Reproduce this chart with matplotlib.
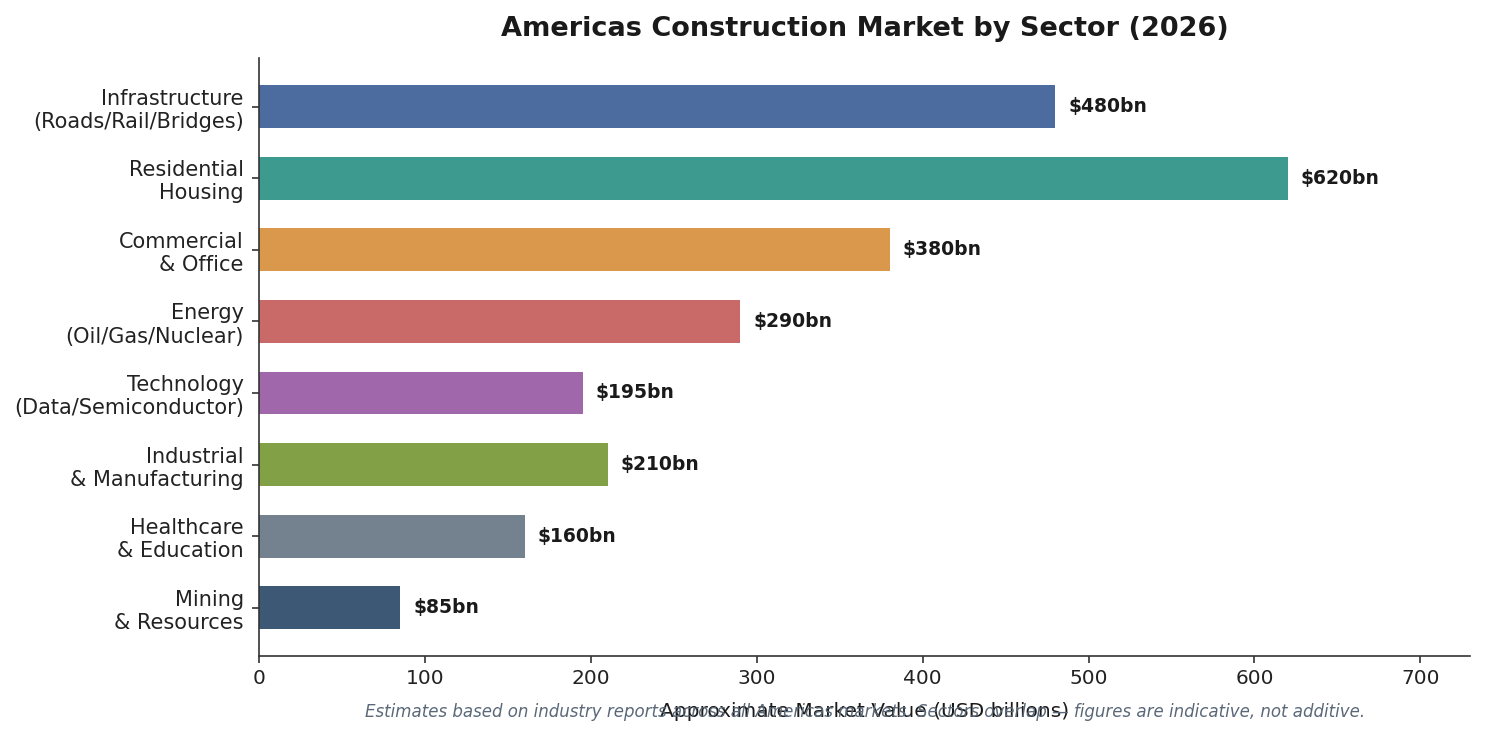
import matplotlib
matplotlib.use("Agg")
import matplotlib.pyplot as plt

# data
sectors = ["Infrastructure\n(Roads/Rail/Bridges)", "Residential\nHousing", "Commercial\n& Office",
           "Energy\n(Oil/Gas/Nuclear)", "Technology\n(Data/Semiconductor)", "Industrial\n& Manufacturing",
           "Healthcare\n& Education", "Mining\n& Resources"]
values = [480, 620, 380, 290, 195, 210, 160, 85]
colors = ["#4C6B9F", "#3C9A8F", "#DA984D", "#C96A68", "#A067AB", "#82A046", "#74828F", "#3D5875"]

fig, ax = plt.subplots(figsize=(14.85, 7.35), dpi=100)
fig.subplots_adjust(left=0.1745, right=0.99, top=0.921, bottom=0.107)

ypos = list(range(len(sectors)))[::-1]
ax.barh(ypos, values, height=0.6, color=colors)
for y, v in zip(ypos, values):
    ax.text(v + 8, y, f"${v}bn", va="center", ha="left", fontsize=13.5,
            fontweight="bold", color="#1a1a1a")

ax.set_yticks(ypos)
ax.set_yticklabels(sectors, fontsize=15, color="#222222")
ax.tick_params(axis="both", length=5, width=1.2, color="#333333", pad=6)
ax.tick_params(axis="x", labelsize=14.5, labelcolor="#222222", pad=4)
ax.set_xlim(0, 730)
ax.set_xlabel("Approximate Market Value (USD billions)", fontsize=14.5, color="#1a1a1a", labelpad=10)
ax.set_title("Americas Construction Market by Sector (2026)", fontsize=19.5, fontweight="bold",
             color="#1a1a1a", pad=16)
ax.spines["top"].set_visible(False)
ax.spines["right"].set_visible(False)
for s in ["left", "bottom"]:
    ax.spines[s].set_color("#333333")
    ax.spines[s].set_linewidth(1.2)

fig.text(0.5825, 0.031, "Estimates based on industry reports across all Americas markets. "
         "Sectors overlap \u2014 figures are indicative, not additive.",
         ha="center", va="center", fontsize=12, style="italic", color="#5a6878")

fig.savefig("out.png", dpi=100)
